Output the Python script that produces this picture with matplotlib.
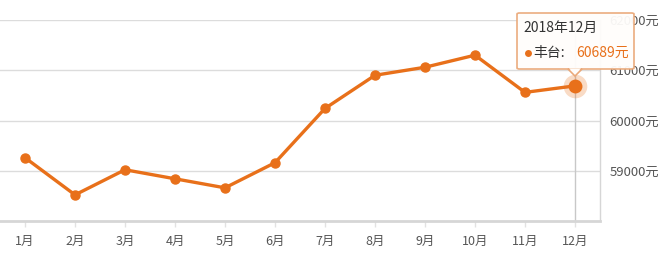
import matplotlib.pyplot as plt
from matplotlib.patches import FancyBboxPatch, Polygon
from matplotlib.lines import Line2D

plt.rcParams['font.family'] = ['Noto Sans CJK SC', 'DejaVu Sans']

months = ['1月', '2月', '3月', '4月', '5月', '6月', '7月', '8月', '9月', '10月', '11月', '12月']
prices = [59260, 58520, 59020, 58840, 58660, 59160, 60240, 60900, 61060, 61300, 60560, 60689]
y_ticks = [59000, 60000, 61000, 62000]
tip_title = '2018年12月'
tip_name = '丰台:'
tip_value = '60689元'

orange = '#e8701a'
W, H = 663, 256

fig = plt.figure(figsize=(W / 100, H / 100), dpi=100)
fig.patch.set_facecolor('white')
# axes spans x 0..600 px, y 20..221 px (from top)
ax = fig.add_axes([0, (H - 221) / H, 600 / W, (221 - 20) / H])
x = list(range(1, len(months) + 1))

ax.set_xlim(0.5, 12.5)
ax.set_ylim(58000, 62000)

for v in y_ticks:
    ax.axhline(v, color='#dcdcdc', lw=1, zorder=1)

# hover cursor line
ax.axvline(12, color='#c8c8c8', lw=1, zorder=1)

ax.plot(x, prices, color=orange, lw=2.4, marker='o', ms=6.5, zorder=3, solid_capstyle='round')
# highlighted last point
ax.plot(x[-1], prices[-1], 'o', color=orange, ms=17, alpha=0.25, mec='none', zorder=4)
ax.plot(x[-1], prices[-1], 'o', color=orange, ms=10, mec='none', zorder=5)

for s in ['top', 'left']:
    ax.spines[s].set_visible(False)
ax.spines['bottom'].set_color('#d6d6d6')
ax.spines['bottom'].set_linewidth(2)
ax.spines['right'].set_color('#d6d6d6')
ax.spines['right'].set_linewidth(1)

ax.set_xticks(x)
ax.set_xticklabels(months)
ax.tick_params(axis='x', length=4, width=1, color='#e2e2e2', labelsize=9,
               labelcolor='#555555', pad=6)
ax.yaxis.tick_right()
ax.set_yticks(y_ticks)
ax.set_yticklabels([f'{v}元' for v in y_ticks])
ax.tick_params(axis='y', length=0, labelsize=9.5, labelcolor='#555555', pad=7)

# tooltip
def fx(px):
    return px / W

def fy(py):
    return (H - py) / H

box = FancyBboxPatch((fx(517), fy(69)), fx(634) - fx(517), fy(13) - fy(69),
                     boxstyle='round,pad=0,rounding_size=0.004',
                     transform=fig.transFigure, facecolor='#fffdfb', edgecolor='#eaa878',
                     lw=1.2, alpha=0.95, zorder=10)
fig.patches.append(box)
tri = Polygon([(fx(568), fy(69)), (fx(582), fy(69)), (fx(575), fy(76))], closed=True,
              transform=fig.transFigure, facecolor='#fffdfb', edgecolor='#eaa878', lw=1.2, zorder=10)
fig.patches.append(tri)
cover = Polygon([(fx(569), fy(68.3)), (fx(581), fy(68.3)), (fx(575), fy(74.5))], closed=True,
                transform=fig.transFigure, facecolor='#fffdfb', edgecolor='none', zorder=11)
fig.patches.append(cover)

fig.text(fx(523), fy(28), tip_title, fontsize=10, color='#333333', va='center', ha='left', zorder=12)
fig.lines.append(Line2D([fx(528)], [fy(53)], transform=fig.transFigure, marker='o', ms=5,
                        color=orange, mec='none', zorder=12))
fig.text(fx(533), fy(53), tip_name, fontsize=10, color='#333333', va='center', ha='left', zorder=12)
fig.text(fx(576), fy(53), tip_value, fontsize=10, color=orange, va='center', ha='left', zorder=12)

fig.savefig('out.png', dpi=100, facecolor='white')
